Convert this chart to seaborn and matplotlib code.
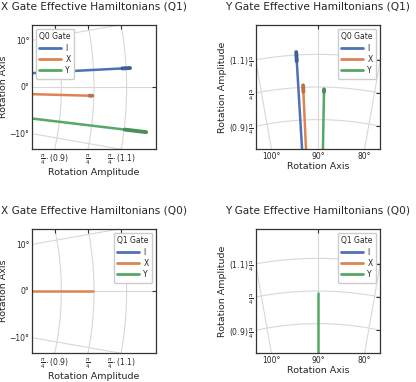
import matplotlib
matplotlib.use('Agg')
import matplotlib.pyplot as plt
import numpy as np
import pandas as pd
import seaborn as sns

gates = ['I', 'X', 'Y']

# X gate on Q1, split by the gate on Q0: amplitude (x nominal), axis angle (deg)
xq1_amp = [1.100, 0.991, 1.135]
xq1_axis = [3.0, -1.55, -6.8]
xq1_err = [0.012, 0.004, 0.033]

# Y gate on Q1
yq1_amp = [1.095, 0.996, 0.989]
yq1_axis = [93.45, 92.6, 88.93]
yq1_err = [0.014, 0.010, 0.004]

# X gate on Q0, split by the gate on Q1
xq0_amp = [np.nan, 0.997, np.nan]
xq0_axis = [np.nan, 0.0, np.nan]
xq0_err = [0.0, 0.0, 0.0]

# Y gate on Q0
yq0_amp = [np.nan, np.nan, 0.994]
yq0_axis = [np.nan, np.nan, 90.0]
yq0_err = [0.0, 0.0, 0.0]

amp_ticks = [0.9, 1.0, 1.1]
amp_labels = [r'$\frac{\pi}{4}\cdot(0.9)$', r'$\frac{\pi}{4}$', r'$\frac{\pi}{4}\cdot(1.1)$']
amp_labels_left = [r'$(0.9)\,\frac{\pi}{4}$', r'$\frac{\pi}{4}$', r'$(1.1)\,\frac{\pi}{4}$']

palette = dict(zip(gates, sns.color_palette('deep', 3)))
GRID = '#d8d8d8'


def panel(ax, amp, axis, err, center, title, xlabel, ylabel, leg_title, leg_loc):
  lo, hi = 0.81, 1.19
  half = 0.19
  angles = [center - 10, center, center + 10]

  # grid: radial lines and amplitude arcs
  for t in angles:
    th = np.deg2rad(t)
    ax.plot([0, 2 * np.cos(th)], [0, 2 * np.sin(th)], color=GRID, lw=0.8, zorder=0)
  th = np.deg2rad(np.linspace(center - 30, center + 30, 200))
  for r in amp_ticks:
    ax.plot(r * np.cos(th), r * np.sin(th), color=GRID, lw=0.8, zorder=0)

  # rays from origin to each fitted hamiltonian
  rows = []
  for g, a, t in zip(gates, amp, axis):
    if np.isnan(a):
      continue
    rad = np.deg2rad(t)
    rows.append((g, 0, 0.0, 0.0))
    rows.append((g, 1, a * np.cos(rad), a * np.sin(rad)))
  rays = pd.DataFrame(rows, columns=['gate', 'k', 'x', 'y'])
  sns.lineplot(data=rays, x='x', y='y', hue='gate', hue_order=gates, palette=palette,
               estimator=None, sort=False, lw=1.8, ax=ax, zorder=2)

  # amplitude uncertainty at the tip
  for g, a, t, e in zip(gates, amp, axis, err):
    if np.isnan(a) or e <= 0:
      continue
    rad = np.deg2rad(t)
    c = np.array(palette[g]) * 0.85
    ax.plot([(a - e) * np.cos(rad), (a + e) * np.cos(rad)],
            [(a - e) * np.sin(rad), (a + e) * np.sin(rad)],
            color=c, lw=2.8, solid_capstyle='round', zorder=3)

  if center == 0:
    ax.set_xlim(lo, hi)
    ax.set_ylim(-half, half)
    ax.set_xticks([np.sqrt(r ** 2 - half ** 2) for r in amp_ticks])
    ax.set_xticklabels(amp_labels)
    ax.set_yticks([lo * np.tan(np.deg2rad(t)) for t in angles])
    ax.set_yticklabels(['\u221210\u00b0', '0\u00b0', '10\u00b0'])
    top = [np.sqrt(r ** 2 - half ** 2) for r in amp_ticks]
    right = [0.0]
  else:
    ax.set_xlim(-half, half)
    ax.set_ylim(lo, hi)
    ax.set_xticks([lo / np.tan(np.deg2rad(t)) for t in angles[::-1]])
    ax.set_xticklabels(['100\u00b0', '90\u00b0', '80\u00b0'])
    ax.set_yticks([np.sqrt(r ** 2 - half ** 2) for r in amp_ticks])
    ax.set_yticklabels(amp_labels_left)
    top = [0.0]
    right = [np.sqrt(r ** 2 - half ** 2) for r in amp_ticks]

  sx = ax.secondary_xaxis('top')
  sx.set_xticks(top)
  sx.tick_params(direction='in', length=3, width=0.8, labeltop=False, color='#333333')
  sy = ax.secondary_yaxis('right')
  sy.set_yticks(right)
  sy.tick_params(direction='in', length=3, width=0.8, labelright=False, color='#333333')
  for s in list(sx.spines.values()) + list(sy.spines.values()):
    s.set_visible(False)

  ax.tick_params(direction='in', length=3, width=0.8, labelsize=5.5, color='#333333', pad=2)
  for s in ax.spines.values():
    s.set_color('#333333')
    s.set_linewidth(0.9)

  ax.set_title(title, fontsize=7.6, pad=11)
  ax.set_xlabel(xlabel, fontsize=6.8, labelpad=1)
  ax.set_ylabel(ylabel, fontsize=6.8, labelpad=1)

  h, l = ax.get_legend_handles_labels()
  leg = ax.legend(h, l, title=leg_title, loc=leg_loc, fontsize=5.5, title_fontsize=5.5,
                  handlelength=2.8, handletextpad=0.6, labelspacing=0.3, borderpad=0.45,
                  framealpha=1, edgecolor='#cccccc', fancybox=True)
  for ln in leg.get_lines():
    ln.set_linewidth(2.0)


sns.set_style('white')
plt.rcParams['font.family'] = ['DejaVu Sans']

fig = plt.figure(figsize=(4.16, 3.82), dpi=100)
W, H = 416, 382
ax1 = fig.add_axes([32 / W, (H - 149) / H, 124 / W, 124 / H])
ax2 = fig.add_axes([256 / W, (H - 149) / H, 124 / W, 124 / H])
ax3 = fig.add_axes([32 / W, (H - 353) / H, 124 / W, 124 / H])
ax4 = fig.add_axes([256 / W, (H - 353) / H, 124 / W, 124 / H])

panel(ax1, xq1_amp, xq1_axis, xq1_err, 0, 'X Gate Effective Hamiltonians (Q1)',
      'Rotation Amplitude', 'Rotation Axis', 'Q0 Gate', 'upper left')
panel(ax2, yq1_amp, yq1_axis, yq1_err, 90, 'Y Gate Effective Hamiltonians (Q1)',
      'Rotation Axis', 'Rotation Amplitude', 'Q0 Gate', 'upper right')
panel(ax3, xq0_amp, xq0_axis, xq0_err, 0, 'X Gate Effective Hamiltonians (Q0)',
      'Rotation Amplitude', 'Rotation Axis', 'Q1 Gate', 'upper right')
panel(ax4, yq0_amp, yq0_axis, yq0_err, 90, 'Y Gate Effective Hamiltonians (Q0)',
      'Rotation Axis', 'Rotation Amplitude', 'Q1 Gate', 'upper right')

fig.savefig('out.png', dpi=100)
